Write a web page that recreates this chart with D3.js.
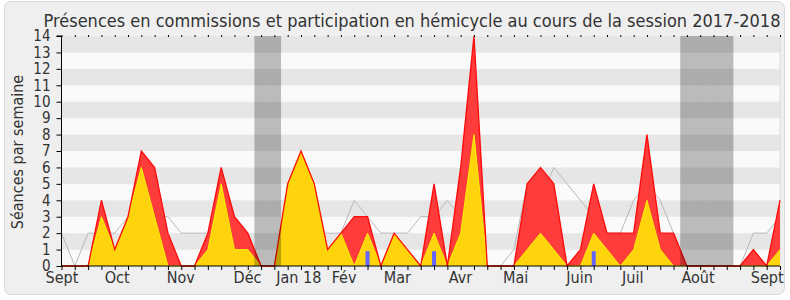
<!DOCTYPE html>
<html>
<head>
<meta charset="utf-8">
<script src="https://cdn.jsdelivr.net/npm/d3@7"></script>
<style>
  body { margin: 0; background: #fff; }
  svg text { font-family: 'DejaVu Sans Condensed', 'DejaVu Sans', sans-serif; font-stretch: condensed; fill: #333; }
</style>
</head>
<body>
<svg id="chart" width="790" height="300"></svg>
<script>
// one value per week, session 2017-2018
const hemicycle = [0,0,0,4,1,3,7,6,2,0, 0,2,6,3,2,0,0,5,7,5, 1,2,3,3,0,2,1,0,5,0, 6,14,0,0,0,5,6,5,0,1, 5,2,2,2,8,2,2,0,0,0, 0,0,1,0,4];
const commission = [0,0,0,3,1,3,6,3,0,0, 0,1,5,1,1,0,0,5,7,5, 1,2,0,2,0,2,1,0,2,0, 2,8,0,0,0,1,2,1,0,0, 2,1,0,1,4,1,0,0,0,0, 0,0,0,0,1];
const median = [2,0,2,2,2,3,4,3,3,2, 2,2,2,2,2,0,0,0,2,2, 2,2,4,3,2,2,2,3,3,4, 3,3,0,0,1,5,4,6,5,4, 3,2,2,4,5,4,2,0,0,0, 0,0,2,2,3];
const questions = [[23, 0.9], [28, 0.9], [40, 0.9]];
const vacances = [15, 16, 47, 48, 49, 50];
const monthLabels = ['Sept','Oct','Nov','Déc','Jan 18','Fév','Mar','Avr','Mai','Juin','Juil','Août','Sept'];
const monthPos = [0, 4.15, 8.93, 13.94, 17.8, 21.2, 25.2, 29.95, 34.1, 38.9, 42.9, 47.8, 53];
const yTicks = d3.range(0, 15);

const svg = d3.select('#chart');
const margin = { top: 36, right: 10, bottom: 34, left: 61.5 };
const width = 790, height = 300;

svg.append('rect').attr('x', 4.5).attr('y', 1.5).attr('width', 780).attr('height', 293)
  .attr('rx', 6).attr('fill', '#efefef').attr('stroke', '#dadada');

const x = d3.scaleLinear().domain([0, hemicycle.length - 1]).range([margin.left, width - margin.right]);
const y = d3.scaleLinear().domain([0, 14]).range([height - margin.bottom, margin.top]);

// stripes
svg.append('g').selectAll('rect')
  .data(yTicks.slice(0, -1))
  .enter().append('rect')
  .attr('x', x.range()[0]).attr('width', x.range()[1] - x.range()[0])
  .attr('y', d => y(d + 1)).attr('height', d => y(d) - y(d + 1))
  .attr('fill', d => d % 2 ? '#e6e6e6' : '#fafafa');

svg.append('line').attr('x1', x.range()[1]).attr('x2', x.range()[1])
  .attr('y1', y(14)).attr('y2', y(0)).attr('stroke', '#dcdcdc');

const weeks = d3.range(hemicycle.length);

svg.append('path').datum(weeks)
  .attr('fill', 'none').attr('stroke', '#b8b8b8').attr('stroke-width', 1)
  .attr('d', d3.line().x(i => x(i)).y(i => y(median[i])));

svg.append('path').datum(weeks)
  .attr('fill', '#ff3c3c')
  .attr('d', d3.area().x(i => x(i)).y0(y(0)).y1(i => y(hemicycle[i])));

svg.append('path').datum(weeks)
  .attr('fill', '#ffd40c')
  .attr('d', d3.area().x(i => x(i)).y0(y(0)).y1(i => y(commission[i])));

svg.append('path').datum(weeks)
  .attr('fill', 'none').attr('stroke', '#f8f000').attr('stroke-width', 1)
  .attr('d', d3.line().x(i => x(i)).y(i => y(commission[i])));

svg.append('path').datum(weeks)
  .attr('fill', 'none').attr('stroke', '#ff0a0a').attr('stroke-width', 1.3)
  .attr('d', d3.line().x(i => x(i)).y(i => y(hemicycle[i])));

svg.append('g').selectAll('rect')
  .data(questions)
  .enter().append('rect')
  .attr('fill', '#6464ff')
  .attr('x', d => x(d[0]) - 2).attr('width', 4)
  .attr('y', d => y(d[1])).attr('height', d => y(0) - y(d[1]));

// vacations
svg.append('g').selectAll('rect')
  .data(vacances)
  .enter().append('rect')
  .attr('fill', '#000').attr('fill-opacity', 0.25)
  .attr('x', d => x(d - 0.5)).attr('width', d => x(d + 0.5) - x(d - 0.5))
  .attr('y', y(14)).attr('height', y(0) - y(14));

// axes
const yAxis = d3.axisLeft(y).tickValues(yTicks).tickSize(5).tickPadding(6);
svg.append('g').attr('transform', `translate(${margin.left},0)`).call(yAxis)
  .call(g => g.selectAll('text').style('font-size', '15px'))
  .call(g => g.select('.domain').attr('d', `M-5,${y(14)}H0V${y(0)}`));

const weekAxis = d3.axisBottom(x).tickValues(weeks).tickSize(4).tickFormat('');
svg.append('g').attr('transform', `translate(0,${y(0)})`).call(weekAxis)
  .call(g => g.select('.domain').attr('d', `M${x.range()[0]},0H${x.range()[1]}`));

const topAxis = d3.axisTop(x).tickValues(weeks).tickSize(2).tickFormat('');
svg.append('g').attr('transform', `translate(0,${y(14) + 1})`).call(topAxis)
  .call(g => g.select('.domain').remove());

const monthAxis = d3.axisBottom(x).tickValues(monthPos).tickSize(0).tickPadding(6)
  .tickFormat((d, i) => monthLabels[i]);
svg.append('g').attr('transform', `translate(0,${y(0)})`).call(monthAxis)
  .call(g => g.select('.domain').remove())
  .call(g => g.selectAll('text').style('font-size', '16px'));

svg.append('text')
  .attr('transform', `translate(17,${(y(0) + y(14)) / 2 + 1}) rotate(-90)`)
  .attr('text-anchor', 'middle').attr('dy', '0.35em')
  .style('font-size', '16px')
  .text('Séances par semaine');

svg.append('text')
  .attr('x', 412).attr('y', 27)
  .attr('text-anchor', 'middle')
  .style('font-size', '18px')
  .text('Présences en commissions et participation en hémicycle au cours de la session 2017-2018');
</script>
</body>
</html>
